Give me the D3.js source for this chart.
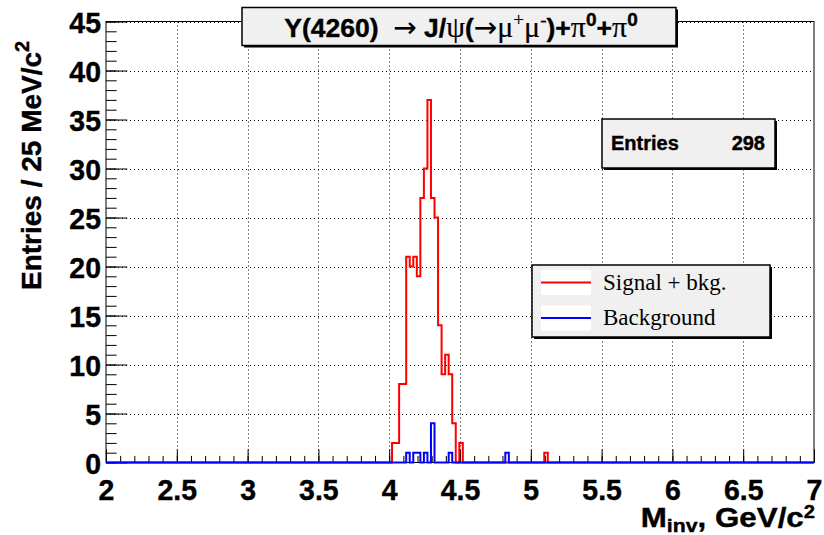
<!DOCTYPE html>
<html>
<head>
<meta charset="utf-8">
<script src="https://cdn.jsdelivr.net/npm/d3@7"></script>
<style>
  html, body { margin: 0; padding: 0; background: #fff; }
  svg { display: block; }
  text { white-space: pre; }
  .lbl { font-family: "Liberation Sans", Arial, Helvetica, sans-serif; font-weight: bold; fill: #000;
         stroke: #000; stroke-width: 0.4px; }
  .sym { font-family: "Liberation Serif", "Times New Roman", serif; font-weight: normal; stroke-width: 0.2px; }
  .arr { font-family: "DejaVu Sans", sans-serif; font-weight: normal; stroke-width: 0.1px; }
  .leg { font-family: "Liberation Serif", "Times New Roman", serif; font-size: 23px; fill: #000; }
</style>
</head>
<body>
<svg id="chart" width="824" height="535"></svg>
<script>
// Invariant mass histograms, 25 MeV/c^2 bins (only non-empty bins listed)
const BIN_WIDTH = 0.025;
const X_RANGE = [2, 7];
const Y_RANGE = [0, 45];

// Signal + background
const signalLow   = [4.020, 4.045, 4.070, 4.095, 4.120, 4.145, 4.170, 4.195, 4.220, 4.245,
                     4.270, 4.295, 4.320, 4.345, 4.370, 4.395, 4.420, 4.445, 4.495, 5.095];
const signalCount = [2, 2, 8, 8, 21, 20, 21, 19, 27, 30,
                     37, 27, 25, 14, 9, 11, 9, 4, 2, 1];

// Background only
const backgroundLow   = [4.120, 4.170, 4.195, 4.245, 4.295, 4.420, 4.820];
const backgroundCount = [1, 1, 1, 1, 4, 1, 1];

const xMajorTicks = [2, 2.5, 3, 3.5, 4, 4.5, 5, 5.5, 6, 6.5, 7];
const xTickLabels = ["2", "2.5", "3", "3.5", "4", "4.5", "5", "5.5", "6", "6.5", "7"];
const yMajorTicks = [0, 5, 10, 15, 20, 25, 30, 35, 40, 45];

const legendNames = ["Signal + bkg.", "Background"];
const seriesColors = ["#ff0000", "#0000ff"];
const entriesLabel = "Entries";
const entriesValue = 298;

// ---------------------------------------------------------------
const svg = d3.select("#chart");
const frame = { left: 106, right: 814, top: 21.5, bottom: 462.5 };

const x = d3.scaleLinear().domain(X_RANGE).range([frame.left, frame.right]);
const y = d3.scaleLinear().domain(Y_RANGE).range([frame.bottom, frame.top]);

svg.append("rect").attr("width", 824).attr("height", 535).attr("fill", "#fff");

// dotted grid
const grid = svg.append("g").attr("stroke", "#000").attr("stroke-width", 1)
  .attr("stroke-dasharray", "1,3");
grid.selectAll("line.gx").data(xMajorTicks.slice(1, -1)).join("line")
  .attr("x1", d => Math.round(x(d)) + 0.5).attr("x2", d => Math.round(x(d)) + 0.5)
  .attr("y1", frame.top).attr("y2", frame.bottom);
grid.selectAll("line.gy").data(yMajorTicks.slice(1)).join("line")
  .attr("y1", d => Math.round(y(d)) + 0.5).attr("y2", d => Math.round(y(d)) + 0.5)
  .attr("x1", frame.left).attr("x2", frame.right);

// axes with ticks pointing into the frame
const xMinor = d3.range(X_RANGE[0], X_RANGE[1] + 1e-9, 0.1);
const yMinor = d3.range(Y_RANGE[0], Y_RANGE[1] + 1e-9, 1);
const plotH = frame.bottom - frame.top, plotW = frame.right - frame.left;
const TICK_FONT = 30, TICK_SX = 0.95;

const xAxisMinor = d3.axisBottom(x).tickValues(xMinor).tickSizeInner(-0.015 * plotH)
  .tickSizeOuter(0).tickFormat("");
const xAxisMajor = d3.axisBottom(x).tickValues(xMajorTicks).tickSizeInner(-0.03 * plotH)
  .tickSizeOuter(0).tickFormat((d, i) => xTickLabels[i]);
const yAxisMinor = d3.axisLeft(y).tickValues(yMinor).tickSizeInner(-0.015 * plotW)
  .tickSizeOuter(0).tickFormat("");
const yAxisMajor = d3.axisLeft(y).tickValues(yMajorTicks).tickSizeInner(-0.03 * plotW)
  .tickSizeOuter(0).tickFormat(d3.format("d"));

function styleAxis(g) {
  g.select(".domain").remove();
  g.selectAll(".tick line").attr("stroke", "#000").attr("stroke-width", 1);
  g.selectAll(".tick text").attr("class", "lbl").attr("font-size", TICK_FONT)
    .attr("x", 0).attr("y", 0).attr("dy", null);
}
svg.append("g").attr("transform", `translate(0,${frame.bottom})`).call(xAxisMinor).call(styleAxis);
svg.append("g").attr("transform", `translate(0,${frame.bottom})`).call(xAxisMajor).call(styleAxis)
  .selectAll(".tick text")
  .attr("transform", `translate(0,37.5) scale(${TICK_SX},1)`);
svg.append("g").attr("transform", `translate(${frame.left},0)`).call(yAxisMinor).call(styleAxis);
svg.append("g").attr("transform", `translate(${frame.left},0)`).call(yAxisMajor).call(styleAxis)
  .selectAll(".tick text")
  .attr("text-anchor", "end")
  .attr("transform", `translate(-5,10.5) scale(${TICK_SX},1)`);

// frame
svg.append("rect").attr("x", frame.left).attr("y", frame.top)
  .attr("width", plotW).attr("height", plotH)
  .attr("fill", "none").attr("stroke", "#000").attr("stroke-width", 1);

// histogram outlines
function stepPoints(lows, counts) {
  const pts = new Map();
  pts.set(X_RANGE[0], 0);
  lows.forEach((lo, i) => {
    const k = +lo.toFixed(4);
    const hi = +(lo + BIN_WIDTH).toFixed(4);
    pts.set(k, counts[i]);
    if (!pts.has(hi)) pts.set(hi, 0);
  });
  pts.set(X_RANGE[1], 0);
  return Array.from(pts).sort((a, b) => a[0] - b[0]);
}
const step = d3.line().x(d => x(d[0])).y(d => y(d[1])).curve(d3.curveStepAfter);

[[signalLow, signalCount], [backgroundLow, backgroundCount]].forEach(([lo, ct], i) => {
  svg.append("path").datum(stepPoints(lo, ct))
    .attr("d", step).attr("fill", "none")
    .attr("stroke", seriesColors[i]).attr("stroke-width", 2).attr("stroke-linejoin", "miter");
});

// box with a drop shadow
function shadowBox(x0, y0, w, h, sw) {
  svg.append("rect").attr("x", x0 + 2).attr("y", y0 + 2).attr("width", w).attr("height", h)
    .attr("fill", "#000");
  svg.append("rect").attr("x", x0).attr("y", y0).attr("width", w).attr("height", h)
    .attr("fill", "#f0f0f0").attr("stroke", "#000").attr("stroke-width", sw);
}

// title
shadowBox(242, 7.5, 434, 38, 1.5);
const title = svg.append("text").attr("class", "lbl").attr("x", 461).attr("y", 37)
  .attr("text-anchor", "middle").attr("font-size", 26.5);
const parts = [
  ["Y(4260)  ", null], ["\u2192", "arr"], [" J/", null], ["\u03c8", "sym"], ["(", null],
  ["\u2192", "arr"], ["\u03bc", "sym"], ["+", "sup"], ["\u03bc", "sym"], ["-", "sup"],
  [")+", null], ["\u03c0", "sym"], ["0", "sup0"], ["+", null], ["\u03c0", "sym"], ["0", "sup0"]
];
let raised = false;
parts.forEach(([t, kind]) => {
  const ts = title.append("tspan").text(t);
  const sup = kind === "sup" || kind === "sup0";
  if (kind === "sym") ts.attr("class", "sym").attr("font-size", 30);
  if (kind === "arr") ts.attr("class", "arr").attr("font-size", 28);
  if (kind === "sup") ts.attr("class", "sym").attr("font-size", 19);
  if (kind === "sup0") ts.attr("font-size", 19);
  if (sup && !raised) ts.attr("dy", -11);
  if (!sup && raised) ts.attr("dy", 11);
  raised = sup;
});

// statistics box
shadowBox(602, 119, 173, 49, 1.5);
svg.append("text").attr("class", "lbl").attr("x", 611).attr("y", 150)
  .attr("font-size", 20).text(entriesLabel);
svg.append("text").attr("class", "lbl").attr("x", 765).attr("y", 150)
  .attr("text-anchor", "end").attr("font-size", 20).text(entriesValue);

// legend
shadowBox(532, 265, 238, 72, 1.5);
legendNames.forEach((name, i) => {
  const cy = 282.5 + i * 35.5;
  svg.append("rect").attr("x", 541).attr("y", cy - 12.5).attr("width", 50).attr("height", 25)
    .attr("fill", "#fff");
  svg.append("line").attr("x1", 541).attr("x2", 591).attr("y1", cy).attr("y2", cy)
    .attr("stroke", seriesColors[i]).attr("stroke-width", 2);
  svg.append("text").attr("class", "leg").attr("x", 603).attr("y", cy + 7).text(name);
});

// axis titles
const xt = svg.append("text").attr("class", "lbl")
  .attr("transform", "translate(815,527) scale(1.12,1)")
  .attr("text-anchor", "end").attr("font-size", 28);
xt.append("tspan").text("M");
xt.append("tspan").attr("font-size", 19).attr("dy", 5).text("inv");
xt.append("tspan").attr("dy", -5).text(", GeV/c");
xt.append("tspan").attr("font-size", 18).attr("dy", -9.5).text("2");

const yt = svg.append("text").attr("class", "lbl")
  .attr("transform", "translate(41,290) rotate(-90)").attr("font-size", 28);
yt.append("tspan").text("Entries / 25 MeV/c");
yt.append("tspan").attr("font-size", 20).attr("dy", -12).text("2");
</script>
</body>
</html>
